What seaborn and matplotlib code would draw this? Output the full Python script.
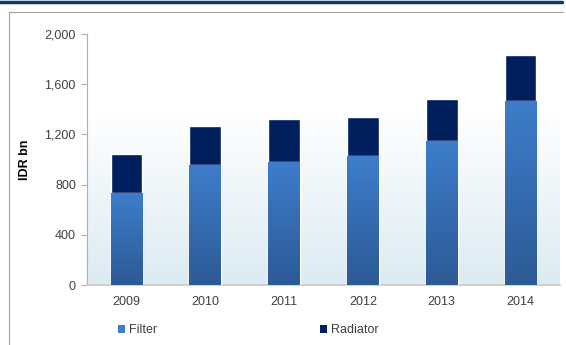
import matplotlib
matplotlib.use('Agg')
import matplotlib.pyplot as plt
import matplotlib.colors as mcolors
from matplotlib.patches import Patch
from matplotlib.lines import Line2D
import numpy as np
import pandas as pd
import seaborn as sns

years = ['2009', '2010', '2011', '2012', '2013', '2014']
filter_vals = [730, 955, 980, 1025, 1150, 1470]
radiator_vals = [310, 315, 340, 315, 335, 365]
y_ticks = [0, 400, 800, 1200, 1600, 2000]

df = pd.DataFrame({'year': years, 'Filter': filter_vals, 'Radiator': radiator_vals})
df['Total'] = df['Filter'] + df['Radiator']

sns.set_style('white')
plt.rcParams['font.family'] = ['Liberation Sans', 'DejaVu Sans']
text_col = '#404040'
navy = '#001F5C'

fig = plt.figure(figsize=[5.66, 3.45], dpi=100)
ax = fig.add_axes([87 / 566, 1 - 285 / 345, (560 - 87) / 566, (285 - 34) / 345])

# background gradient of plot area (white in the upper part, pale blue at bottom)
bg = mcolors.LinearSegmentedColormap.from_list('bg', ['#DCEBF2', '#FFFFFF'])
t = np.clip(np.linspace(0, 1, 256) / 0.7, 0, 1).reshape(-1, 1)
ax.imshow(t, cmap=bg, aspect='auto', extent=[-0.5, 5.5, 0, 2000],
          origin='lower', zorder=0, vmin=0, vmax=1)

sns.barplot(data=df, x='year', y='Total', color=navy, width=0.4, saturation=1,
            ax=ax, zorder=2)
n_tot = len(ax.patches)
sns.barplot(data=df, x='year', y='Filter', color='#3A78C4', width=0.4, saturation=1,
            ax=ax, zorder=3)

# gradient on filter bars
fg = mcolors.LinearSegmentedColormap.from_list('fg', ['#2C5A95', '#3E7DCB'])
for p in ax.patches[n_tot:]:
    x0, w, h = p.get_x(), p.get_width(), p.get_height()
    im = ax.imshow(np.linspace(0, 1, 256).reshape(-1, 1), cmap=fg, aspect='auto',
                   extent=[x0, x0 + w, 0, h], origin='lower', zorder=4)
    im.set_clip_path(p)

ax.set_xlim(-0.5, 5.5)
ax.set_ylim(0, 2000)
ax.set_yticks(y_ticks)
ax.set_yticklabels([f'{v:,}' for v in y_ticks])
ax.set_xlabel('')
ax.set_ylabel('IDR bn', fontsize=9, fontweight='bold', color='#000000', labelpad=10)
ax.tick_params(axis='y', length=4, width=0.8, color='#B0B0B0', labelsize=9,
               labelcolor=text_col, pad=4, left=True)
ax.tick_params(axis='x', length=0, labelsize=9, labelcolor=text_col, pad=8)
for s in ['top', 'right']:
    ax.spines[s].set_visible(False)
ax.spines['left'].set_color('#B0B0B0')
ax.spines['bottom'].set_color('#C8C8C8')
ax.spines['left'].set_linewidth(0.8)
ax.spines['bottom'].set_linewidth(1.2)

handles = [Patch(facecolor='#3E7DCB', edgecolor='none', label='Filter'),
           Patch(facecolor=navy, edgecolor='none', label='Radiator')]
fig.legend(handles=handles, loc='center', bbox_to_anchor=(248 / 566, 1 - 330 / 345),
           ncol=2, frameon=False, fontsize=9, handlelength=0.6, handleheight=0.6,
           handletextpad=0.3, columnspacing=13, labelcolor=text_col)

# outer decorations: dark band and grey frame
fig.add_artist(Line2D([0, 562 / 566], [1 - 1.5 / 345] * 2, color='#0E3A6A', lw=2.5))
fig.add_artist(Line2D([9 / 566, 563 / 566], [1 - 12 / 345] * 2, color='#A0A0A0', lw=0.8))
fig.add_artist(Line2D([9 / 566, 9 / 566], [0, 1 - 12 / 345], color='#A0A0A0', lw=0.8))

plt.savefig('out.png', dpi=100)
